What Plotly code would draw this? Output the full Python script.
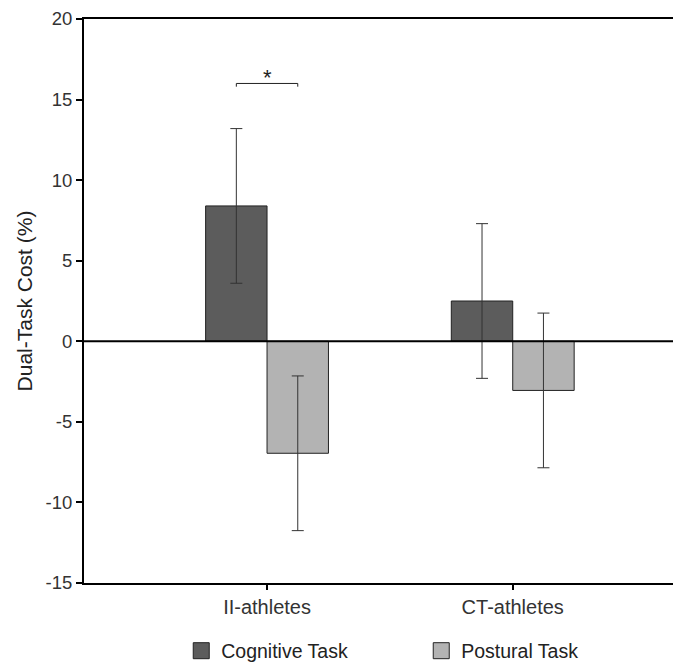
import plotly.graph_objects as go

categories = ["II-athletes", "CT-athletes"]
cognitive = [8.4, 2.5]
cognitive_sd = [4.8, 4.8]
postural = [-6.95, -3.05]
postural_sd = [4.8, 4.8]
y_ticks = [-15, -10, -5, 0, 5, 10, 15, 20]
y_tick_text = ["-15", "-10", "-5", "0", "5", "10", "15", "20"]
sig_y = 16.0

FONT = "Liberation Sans"
COG_COLOR = "#5c5c5c"
POS_COLOR = "#b3b3b3"
fig = go.Figure()
fig.add_bar(x=categories, y=cognitive, name="Cognitive Task", showlegend=False,
            marker=dict(color=COG_COLOR, line=dict(color="#222", width=1)),
            error_y=dict(type="data", array=cognitive_sd, color="#333", thickness=1, width=6))
fig.add_bar(x=categories, y=postural, name="Postural Task", showlegend=False,
            marker=dict(color=POS_COLOR, line=dict(color="#222", width=1)),
            error_y=dict(type="data", array=postural_sd, color="#333", thickness=1, width=6))
# legend entries with larger square swatches
for name, col in [("Cognitive Task", COG_COLOR), ("Postural Task", POS_COLOR)]:
    fig.add_scatter(x=[None], y=[None], mode="markers", name=name,
                    marker=dict(symbol="square", size=16, color=col, line=dict(color="#222", width=1)))

# significance bracket between bars of first group (bar offset = +/-0.125)
x0, x1 = -0.125, 0.125
fig.add_shape(type="path", xref="x", yref="y",
              path=f"M {x0},{sig_y-0.2} L {x0},{sig_y} L {x1},{sig_y} L {x1},{sig_y-0.2}",
              line=dict(color="#222", width=1))
fig.add_annotation(x=0, y=sig_y, xref="x", yref="y", text="*", showarrow=False,
                   yanchor="bottom", yshift=-9, font=dict(size=22, color="#222", family=FONT))
# zero line
fig.add_shape(type="line", xref="paper", yref="y", x0=0, x1=1, y0=0, y1=0,
              line=dict(color="black", width=2))

fig.update_layout(
    width=675, height=657,
    margin=dict(l=76, r=0, t=11, b=82, autoexpand=False),
    plot_bgcolor="white", paper_bgcolor="white",
    barmode="group", bargap=0.5, bargroupgap=0,
    font=dict(family=FONT, size=18, color="#333"),
    showlegend=True,
    legend=dict(orientation="h", x=0.563, xanchor="center", y=-0.1206, yanchor="middle",
                bgcolor="rgba(0,0,0,0)",
                font=dict(size=19.5, color="#222"), entrywidth=195, entrywidthmode="pixels"),
    xaxis=dict(type="category", range=[-0.745, 1.693], showline=True, linecolor="black",
               linewidth=2, mirror=True, ticks="outside", ticklen=5, tickcolor="black",
               tickwidth=2, showgrid=False, automargin=False,
               tickfont=dict(size=20, color="#333")),
    yaxis=dict(range=[-15, 20], tickvals=y_ticks, ticktext=y_tick_text, showline=True,
               linecolor="black", automargin=False,
               linewidth=2, ticks="outside", ticklen=6, tickcolor="black", tickwidth=2,
               showgrid=False, zeroline=False, tickfont=dict(size=18.5, color="#333"),
               title=dict(text="Dual-Task Cost (%)", font=dict(size=21, color="#222"), standoff=7)),
)
fig.write_html("out.html")
